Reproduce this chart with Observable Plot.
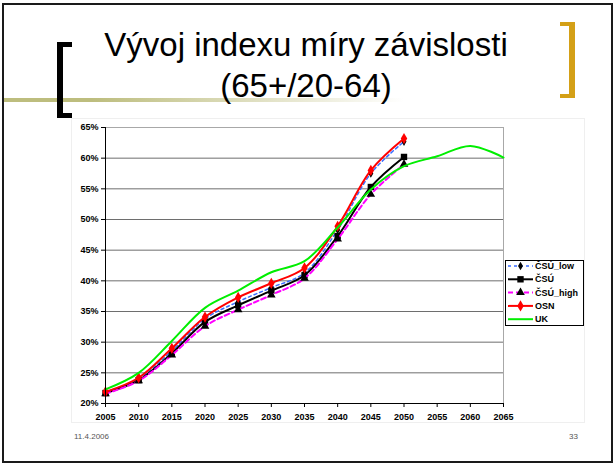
<!DOCTYPE html>
<html>
<head>
<meta charset="utf-8">
<script src="https://cdn.jsdelivr.net/npm/d3@7"></script>
<script src="https://cdn.jsdelivr.net/npm/@observablehq/plot@0.6"></script>
<style>
  html, body { margin: 0; padding: 0; background: #fff; }
  #slide { position: relative; width: 616px; height: 466px; overflow: hidden; font-family: "Liberation Sans", Arial, sans-serif; background: #fff; }
  #border { position: absolute; left: 2px; top: 3px; width: 607px; height: 456px; border: 2px solid #1a1a1a; }
  #olive { position: absolute; left: 4px; top: 98px; width: 400px; height: 4px;
           background: linear-gradient(to right, #bdbd7e 0%, #bdbd7e 22%, rgba(255,255,255,0) 100%); }
  #brL { position: absolute; left: 57px; top: 42px; width: 15px; height: 76px; box-sizing: border-box;
         border-style: solid; border-color: #000; border-width: 5px 0 5px 6px; }
  #brR { position: absolute; left: 560px; top: 22px; width: 15px; height: 76px; box-sizing: border-box;
         border-style: solid; border-color: #d4a017; border-width: 4px 6px 4px 0; }
  #title { position: absolute; left: 0; top: 24px; width: 612px; text-align: center; font-size: 33px; line-height: 41px; color: #000; }
  #chartframe { position: absolute; left: 71px; top: 118px; width: 514px; height: 305px; box-sizing: border-box; border: 1px solid #efefef; }
  #chart { position: absolute; left: 0; top: 110px; }
  #legend { position: absolute; left: 0; top: 0; }
  #date { position: absolute; left: 74px; top: 432px; font-size: 8px; color: #555; }
  #page { position: absolute; right: 38px; top: 432px; font-size: 8px; color: #555; }
</style>
</head>
<body>
<div id="slide">
  <div id="border"></div>
  <div id="olive"></div>
  <div id="brL"></div>
  <div id="brR"></div>
  <div id="title">Vývoj indexu míry závislosti<br>(65+/20-64)</div>
  <div id="chartframe"></div>
  <div id="chart"></div>
  <svg id="legend" width="616" height="466"></svg>
  <div id="date">11.4.2006</div>
  <div id="page">33</div>
</div>
<script>
// ---- data ----
const years = [2005, 2010, 2015, 2020, 2025, 2030, 2035, 2040, 2045, 2050, 2055, 2060, 2065];
const yTicks = [20, 25, 30, 35, 40, 45, 50, 55, 60, 65];
const seriesNames = ["ČSÚ_low", "ČSÚ", "ČSÚ_high", "OSN", "UK"];
const csuLow  = [21.9, 24.0, 28.6, 33.8, 36.6, 38.9, 41.3, 48.3, 57.5, 62.7];
const csu     = [21.7, 23.8, 28.2, 33.3, 36.0, 38.4, 40.9, 47.3, 55.3, 60.2];
const csuHigh = [21.6, 23.7, 27.9, 32.6, 35.3, 37.7, 40.4, 46.8, 54.1, 59.0];
const osn     = [21.9, 24.2, 29.0, 34.1, 37.3, 39.6, 42.1, 48.9, 58.0, 63.2];
const uk      = [22.3, 25.0, 30.2, 35.6, 38.4, 41.4, 43.2, 48.7, 54.9, 58.7, 60.3, 62.0, 60.1];

// ---- styles ----
const styles = {
  "ČSÚ_low":  {stroke: "#3a6cff", dash: "3,3", width: 1.5, symbol: "diamond",  fill: "#000", r: 2.6},
  "ČSÚ":      {stroke: "#000000", dash: null,  width: 2,   symbol: "square",   fill: "#000", r: 3.6},
  "ČSÚ_high": {stroke: "#ff00ff", dash: "5,3", width: 2,   symbol: "triangle", fill: "#000", r: 3.2},
  "OSN":      {stroke: "#ff0000", dash: null,  width: 2,   symbol: "diamond",  fill: "#ff0000", r: 3.4},
  "UK":       {stroke: "#00ee00", dash: null,  width: 2,   symbol: null,       fill: "#00ee00", r: 0}
};
const valuesBySeries = {"ČSÚ_low": csuLow, "ČSÚ": csu, "ČSÚ_high": csuHigh, "OSN": osn, "UK": uk};

const rows = name => valuesBySeries[name].map((v, i) => ({year: years[i], value: v, series: name}));

const marks = [
  Plot.gridY(yTicks.filter(t => t > 20 && t < 65), {stroke: "#6e6e6e", strokeOpacity: 1, strokeWidth: 1}),
  Plot.ruleY([65], {stroke: "#a8a8a8", strokeWidth: 1}),
  Plot.ruleX([2065], {stroke: "#a8a8a8", strokeWidth: 1}),
];
for (const name of seriesNames) {
  const s = styles[name];
  const data = rows(name);
  marks.push(Plot.line(data, {x: "year", y: "value", stroke: s.stroke, strokeWidth: s.width,
    strokeDasharray: s.dash || undefined, curve: "catmull-rom"}));
  if (s.symbol) {
    marks.push(Plot.dot(data, {x: "year", y: "value", symbol: s.symbol, fill: s.fill, stroke: "none", r: s.r}));
  }
}
marks.push(
  Plot.ruleX([2005], {stroke: "#000", strokeWidth: 1}),
  Plot.ruleY([20], {stroke: "#000", strokeWidth: 1}),
  Plot.axisX({ticks: years, tickFormat: d => String(d), tickSize: 4, tickPadding: 6, label: null, stroke: "#000"}),
  Plot.axisY({ticks: yTicks, tickFormat: d => d + "%", tickSize: 4, tickPadding: 3, label: null, stroke: "#000"})
);

const chart = Plot.plot({
  width: 616, height: 320,
  marginLeft: 105, marginRight: 113, marginTop: 17, marginBottom: 27,
  style: {fontFamily: "'Liberation Sans', Arial, sans-serif", fontSize: "9px", fontWeight: "bold", background: "transparent", color: "#000"},
  x: {type: "linear", domain: [2005, 2065], label: null},
  y: {type: "linear", domain: [20, 65], label: null},
  marks
});
document.getElementById("chart").appendChild(chart);

// ---- legend ----
const lg = d3.select("#legend");
const lx = 505, ly = 260, lw = 78, lh = 65, step = 13.3;
lg.append("rect").attr("x", lx + 0.5).attr("y", ly + 0.5).attr("width", lw).attr("height", lh)
  .attr("fill", "#fff").attr("stroke", "#000").attr("stroke-width", 1);
const symMap = {diamond: d3.symbolDiamond, square: d3.symbolSquare, triangle: d3.symbolTriangle};
seriesNames.forEach((name, i) => {
  const s = styles[name];
  const cy = ly + 6 + i * step;
  lg.append("line").attr("x1", lx + 3).attr("x2", lx + 28).attr("y1", cy).attr("y2", cy)
    .attr("stroke", s.stroke).attr("stroke-width", s.width).attr("stroke-dasharray", s.dash);
  if (s.symbol) {
    lg.append("path").attr("transform", `translate(${lx + 15.5},${cy})`)
      .attr("d", d3.symbol(symMap[s.symbol], Math.PI * s.r * s.r)()).attr("fill", s.fill);
  }
  lg.append("text").attr("x", lx + 30).attr("y", cy).attr("dy", "0.35em")
    .attr("font-family", "'Liberation Sans', Arial, sans-serif").attr("font-size", 9).attr("font-weight", "bold")
    .attr("fill", "#000").text(name);
});
</script>
</body>
</html>
